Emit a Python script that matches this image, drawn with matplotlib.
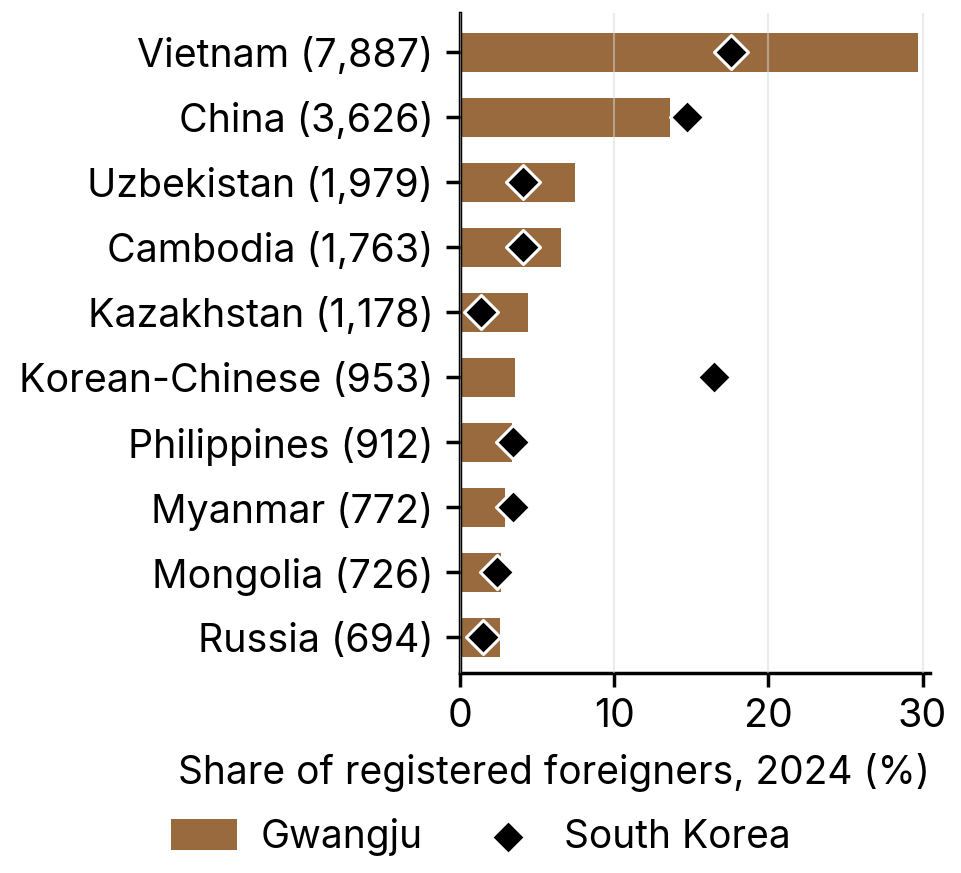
import matplotlib.pyplot as plt
import numpy as np

plt.rcParams['font.family'] = ['Inter', 'DejaVu Sans']

countries = ["Vietnam (7,887)", "China (3,626)", "Uzbekistan (1,979)", "Cambodia (1,763)",
             "Kazakhstan (1,178)", "Korean-Chinese (953)", "Philippines (912)",
             "Myanmar (772)", "Mongolia (726)", "Russia (694)"]
gwangju = [29.7, 13.6, 7.45, 6.55, 4.4, 3.55, 3.4, 2.9, 2.7, 2.6]
south_korea = [17.6, 14.7, 4.1, 4.1, 1.35, 16.5, 3.45, 3.45, 2.4, 1.5]

fig = plt.figure(figsize=(9.62, 8.73), dpi=100)
ax = fig.add_axes([0.478, 0.229, 0.489, 0.756])

y = np.arange(len(countries))
bars = ax.barh(y, gwangju, height=0.6, color="#986A3E", label="Gwangju", zorder=1)
pts = ax.scatter(south_korea, y, marker="D", s=300, color="black", edgecolor="white",
                 linewidth=2.2, label="South Korea", zorder=4)

ax.set_xlim(0, 30.5)
ax.set_ylim(9.55, -0.6)
ax.set_yticks(y)
ax.set_yticklabels(countries)
ax.set_xticks([0, 10, 20, 30])

ax.set_axisbelow(False)
ax.grid(axis="x", color="#d9d9d9", alpha=0.5, linewidth=1.5, zorder=2)
ax.grid(axis="y", visible=False)

for s in ["top", "right"]:
    ax.spines[s].set_visible(False)
for s in ["left", "bottom"]:
    ax.spines[s].set_linewidth(2.5)
ax.tick_params(axis="both", labelsize=28.3, width=2.5, length=10)
ax.tick_params(axis="y", pad=9)
ax.tick_params(axis="x", pad=8)

ax.set_xlabel("Share of registered foreigners, 2024 (%)", fontsize=28, loc="right", labelpad=13)

fig.legend([bars, pts], ["Gwangju", "South Korea"], loc="center",
           bbox_to_anchor=(0.5, 0.041), ncol=2, frameon=False,
           fontsize=28, handlelength=1.7, handleheight=0.85, columnspacing=1.35,
           handletextpad=0.6, borderpad=0.2)

fig.savefig("out.png", dpi=100)
